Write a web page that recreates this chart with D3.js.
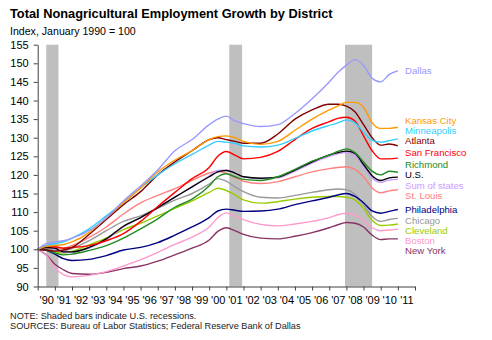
<!DOCTYPE html>
<html>
<head>
<meta charset="utf-8">
<script src="https://cdn.jsdelivr.net/npm/d3@7"></script>
<style>
  body { margin: 0; background: #fff; }
  svg { display: block; font-family: Arial, "Liberation Sans", sans-serif; }
</style>
</head>
<body>
<svg id="chart" width="492" height="340"></svg>
<script>
// sample dates (decimal years)
let dates = [1990, 1990.5, 1991, 1991.5, 1992, 1993, 1994, 1995, 1996, 1997, 1998, 1999, 2000, 2000.5, 2001, 2001.5,
             2002, 2003, 2004, 2005, 2006, 2007, 2007.5, 2008, 2008.5, 2009, 2009.5, 2010, 2010.5, 2011];

let dallas       = [100, 101.5, 102, 102.3, 103, 105, 108.5, 113, 117, 121.3, 126.5, 129.5, 133.5, 135, 135.8, 134.5,
                    133.8, 133, 133.5, 136.5, 140.5, 145, 147.5, 149.5, 151, 149.5, 146, 145, 147, 148];
let kansasCity   = [100, 100.8, 101, 101.3, 102, 104.5, 108.5, 112.5, 116.5, 120.8, 124, 126.5, 129.5, 130.3, 130.5, 130,
                    129, 128.2, 129, 132, 135, 137.5, 138.5, 139.5, 139.5, 138.2, 134, 132.5, 132.5, 132.8];
let minneapolis  = [100, 101, 101.5, 102, 103, 105.5, 109, 112.5, 116.5, 120, 123, 125.5, 128, 129, 128.8, 128.5,
                    127.8, 127.5, 128, 129.8, 131.8, 133.3, 134, 134.8, 134, 131.5, 129.3, 128.8, 129.2, 129.7];
let atlanta      = [100, 99.8, 99.5, 99.8, 100.5, 104, 108, 112, 115.5, 120, 123.5, 126.5, 129.5, 130, 129.5, 129,
                    128.5, 128.5, 131, 135, 137.5, 139, 139, 138.5, 137, 133.5, 130, 128, 128.3, 127.8];
let sanFrancisco = [100, 100.8, 100.7, 100.3, 100.5, 101, 102.3, 104.2, 107.5, 111.5, 115.3, 119, 122, 125, 126.3, 125.3,
                    124.3, 124.7, 126.3, 129.5, 132.5, 134.3, 135.2, 135.5, 134.5, 130.5, 126.5, 124.3, 124.3, 124.5];
let richmond     = [100, 99.8, 99, 98.5, 98.7, 99.7, 101, 103, 105.5, 108.2, 111.3, 113.5, 117, 119.5, 120.3, 119.5,
                    118.8, 118.5, 119.5, 121.5, 123.7, 125.3, 126.3, 127, 126, 123.5, 121, 120, 121, 120.7];
let us           = [100, 100.5, 100.3, 99.3, 99.3, 100.5, 102.8, 106.2, 108.5, 111.2, 114, 116.8, 119.5, 120.8, 121.2, 120.5,
                    119.5, 119.1, 119.4, 121.3, 123.5, 125.4, 126, 126.4, 125.8, 122.8, 119.8, 118.5, 119.2, 119.4];
let sumOfStates  = [100, 100.4, 100, 99.2, 99.2, 100.3, 102.6, 106, 108.5, 111.2, 114, 116.8, 119.7, 121.2, 121.3, 120.5,
                    119.5, 119, 119.2, 121, 123.2, 125, 125.7, 126, 125.2, 122.3, 119.2, 118, 118.6, 118.8];
let stLouis      = [100, 100.5, 100.3, 100.3, 101, 103.2, 106, 109.5, 112.5, 114.5, 116.3, 118.5, 120.5, 121, 120.5, 119.3,
                    118.3, 117.7, 118.2, 119.5, 120.8, 121.7, 122, 122.2, 121.5, 119.5, 116.5, 115.2, 115.7, 116];
let philadelphia = [100, 99.7, 98.7, 97.5, 97, 97.3, 98.3, 99.8, 100.5, 101.8, 103.8, 106, 108.5, 110.3, 110.8, 110.5,
                    110.2, 110.3, 110.8, 112, 113, 114, 114.6, 115, 114.2, 112.5, 110.3, 109.7, 110.2, 110.7];
let chicago      = [100, 100.3, 99.8, 99.5, 100.2, 102.3, 105, 107.5, 109, 111, 113.2, 115, 117.5, 119, 118.3, 116.8,
                    115.5, 114, 113.8, 114.5, 115.3, 116, 116.2, 116, 114.8, 112, 108.8, 107.5, 108, 108.3];
let cleveland    = [100, 100, 99.3, 99, 99.5, 101.2, 103, 105.3, 107, 109, 111, 113, 115.3, 116.4, 115.8, 114.6,
                    113.3, 112.4, 112.8, 113.5, 114, 114.2, 114.2, 114, 113.3, 111, 107.8, 106.4, 106.5, 106.8];
let boston       = [100, 98.5, 95, 93.2, 92.6, 93, 94, 95.5, 97.2, 99.2, 101.3, 103.3, 106, 108.5, 109.8, 109,
                    108, 106.7, 106.3, 106.8, 107.5, 108.5, 109.3, 109.7, 109.2, 107.8, 105.8, 105, 105.2, 105.4];
let newYork      = [100, 98.5, 96, 94.5, 93.5, 93.3, 93.8, 94.8, 95.5, 96.8, 98.5, 100.3, 102.5, 104.8, 105.8, 105,
                    104, 103, 102.8, 103.5, 104.5, 105.8, 106.6, 107.2, 107, 106, 103.8, 102.6, 102.8, 102.8];

let names = ["Dallas", "Kansas City", "Minneapolis", "Atlanta", "San Francisco", "Richmond", "U.S.", "Sum of states",
             "St. Louis", "Philadelphia", "Chicago", "Cleveland", "Boston", "New York"];
let seriesValues = [dallas, kansasCity, minneapolis, atlanta, sanFrancisco, richmond, us, sumOfStates,
                    stLouis, philadelphia, chicago, cleveland, boston, newYork];

// recession periods (start, end) in decimal years
let recessions = [[1990.5, 1991.21], [2001.17, 2001.92], [2007.92, 2009.5]];

let yTicks = d3.range(90, 156, 5);
let years = d3.range(1990, 2013);
let yearLabels = ["'90", "'91", "'92", "'93", "'94", "'95", "'96", "'97", "'98", "'99", "'00",
                  "'01", "'02", "'03", "'04", "'05", "'06", "'07", "'08", "'09", "'10", "'11"];

let title = "Total Nonagricultural Employment Growth by District";
let subtitle = "Index, January 1990 = 100";
let notes = ["NOTE: Shaded bars indicate U.S. recessions.",
             "SOURCES: Bureau of Labor Statistics; Federal Reserve Bank of Dallas"];

// styling
let colors = ["#9999ff", "#ff9900", "#33ccff", "#800000", "#ff0000", "#228b22", "#000000", "#cc99ff",
              "#ff8080", "#000080", "#999999", "#99cc00", "#ff99cc", "#883366"];
// label anchor, in index units
let labelAt = [147.9, 134.6, 131.9, 129.1, 126, 122.7, 120, 117.1, 114.3, 110.6, 107.7, 105.1, 102.3, 99.7];

let svg = d3.select("#chart");

let x = d3.scaleLinear().domain([1990, 2012]).range([37.7, 415]);
let y = d3.scaleLinear().domain([90, 155]).range([286.5, 44.7]);

svg.append("text").attr("x", 10).attr("y", 18)
    .style("font-size", "12.8px").style("font-weight", "bold").text(title);
svg.append("text").attr("x", 10).attr("y", 35)
    .style("font-size", "10.6px").text(subtitle);

svg.selectAll("rect.rec").data(recessions).enter().append("rect")
    .attr("class", "rec")
    .attr("x", d => x(d[0]))
    .attr("width", d => x(d[1]) - x(d[0]))
    .attr("y", y(155))
    .attr("height", y(90) - y(155))
    .attr("fill", "#bfbfbf");

let line = d3.line()
    .x((d, i) => x(dates[i]))
    .y(d => y(d))
    .curve(d3.curveMonotoneX);

// draw back to front so the lower lines sit on top like the original
for (let i = seriesValues.length - 1; i >= 0; i--) {
    svg.append("path")
        .datum(seriesValues[i])
        .attr("fill", "none")
        .attr("stroke", colors[i])
        .attr("stroke-width", 1.4)
        .attr("d", line);
}

svg.selectAll("text.lab").data(names).enter().append("text")
    .attr("class", "lab")
    .attr("x", 405)
    .attr("y", (d, i) => y(labelAt[i]))
    .attr("dy", "0.35em")
    .attr("fill", (d, i) => colors[i])
    .style("font-size", "9.6px")
    .text(d => d);

let yAxis = svg.append("g")
    .attr("transform", "translate(" + x(1990) + ",0)")
    .call(d3.axisLeft(y).tickValues(yTicks).tickSize(4).tickPadding(5).tickSizeOuter(0));

let xAxis = svg.append("g")
    .attr("transform", "translate(0," + y(90) + ")")
    .call(d3.axisBottom(x).tickValues(years).tickSize(4).tickFormat("").tickSizeOuter(0));

let xLabels = svg.append("g")
    .attr("transform", "translate(0," + y(90) + ")")
    .call(d3.axisBottom(x).tickValues(years.slice(0, -1).map(d => d + 0.5))
        .tickSize(0).tickPadding(10).tickFormat((d, i) => yearLabels[i]));
xLabels.select(".domain").remove();

svg.selectAll(".tick text").style("font-size", "11px").attr("fill", "#000").style("font-family", "Arial, 'Liberation Sans', sans-serif");
svg.selectAll(".domain, .tick line").attr("stroke", "#404040");

svg.selectAll("text.note").data(notes).enter().append("text")
    .attr("class", "note")
    .attr("x", 10)
    .attr("y", (d, i) => 318.5 + i * 10.8)
    .style("font-size", "9.2px")
    .attr("fill", "#222")
    .text(d => d);
</script>
</body>
</html>
